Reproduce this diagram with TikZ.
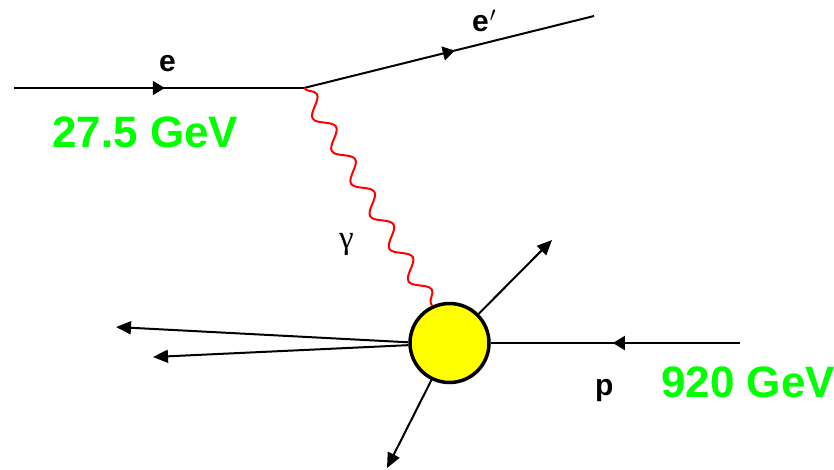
\documentclass[tikz,border=0pt]{standalone}
\usepackage{fontspec}
\setmainfont{Liberation Sans}
\newfontfamily\symfont{Liberation Serif}
\usetikzlibrary{positioning,calc,arrows.meta,decorations.pathmorphing,decorations.markings}
\definecolor{hgreen}{RGB}{0,255,0}
\definecolor{hyellow}{RGB}{255,255,0}
\tikzset{x=1pt,y=-1pt,
line/.style={line width=2pt,black},
outarr/.style={line,-{Triangle[length=15pt,width=13pt]}},
midarr/.style={line,postaction={decorate},
  decoration={markings,mark=at position #1 with {\arrow{Triangle[length=12pt,width=14pt]}}}},
photon/.style={red,line width=2pt,decorate,
  decoration={snake,segment length=37.8pt,amplitude=8pt}},
lbl/.style={font=\bfseries\fontsize{30}{30}\selectfont,inner sep=0pt,anchor=base west},
gev/.style={font=\bfseries\fontsize{44}{44}\selectfont,text=hgreen,inner sep=0pt,anchor=base west},
blobstyle/.style={circle,draw,line width=3.5pt,fill=hyellow,inner sep=0pt,minimum size=79pt},
}
\begin{document}
\begin{tikzpicture}
	\useasboundingbox (0,0) rectangle (834,469);

	% vertices and free ends
	\coordinate (ein) at (14,88);
	\coordinate (vtx) at (304,88);
	\coordinate (eout) at (594,16);
	\coordinate (pin) at (740,343);
	\coordinate (l1) at (116,327);
	\coordinate (l2) at (153,357);
	\coordinate (ur) at (552,240);
	\coordinate (dl) at (387,468);

	\node[blobstyle] (blob) at (449.5,343) {};

	% lepton line
	\draw[midarr=0.52] (ein) -- (vtx);
	\draw[midarr=0.52] (vtx) -- (eout);
	\draw[photon] (vtx) -- (blob.115);

	% proton and final state
	\draw[midarr=0.51] (pin) -- (blob.east);
	\draw[outarr] (blob.179) -- (l1);
	\draw[outarr] (blob.183) -- (l2);
	\draw[outarr] (blob.45) -- (ur);
	\draw[outarr] (blob.-116) -- (dl);

	% labels
	\node[lbl] (elab) at (159,71.5) {e};
	\node[lbl] (eplab) at (472,31) {e\kern1pt$'$};
	\node[gev] (ebeam) at (52,147) {27.5 GeV};
	\node[lbl,font=\symfont\fontsize{33}{33}\selectfont] (glab) at (339,248) {γ};
	\node[lbl] (plab) at (595,395) {p};
	\node[gev] (pbeam) at (661,397) {920 GeV};
\end{tikzpicture}
\end{document}
